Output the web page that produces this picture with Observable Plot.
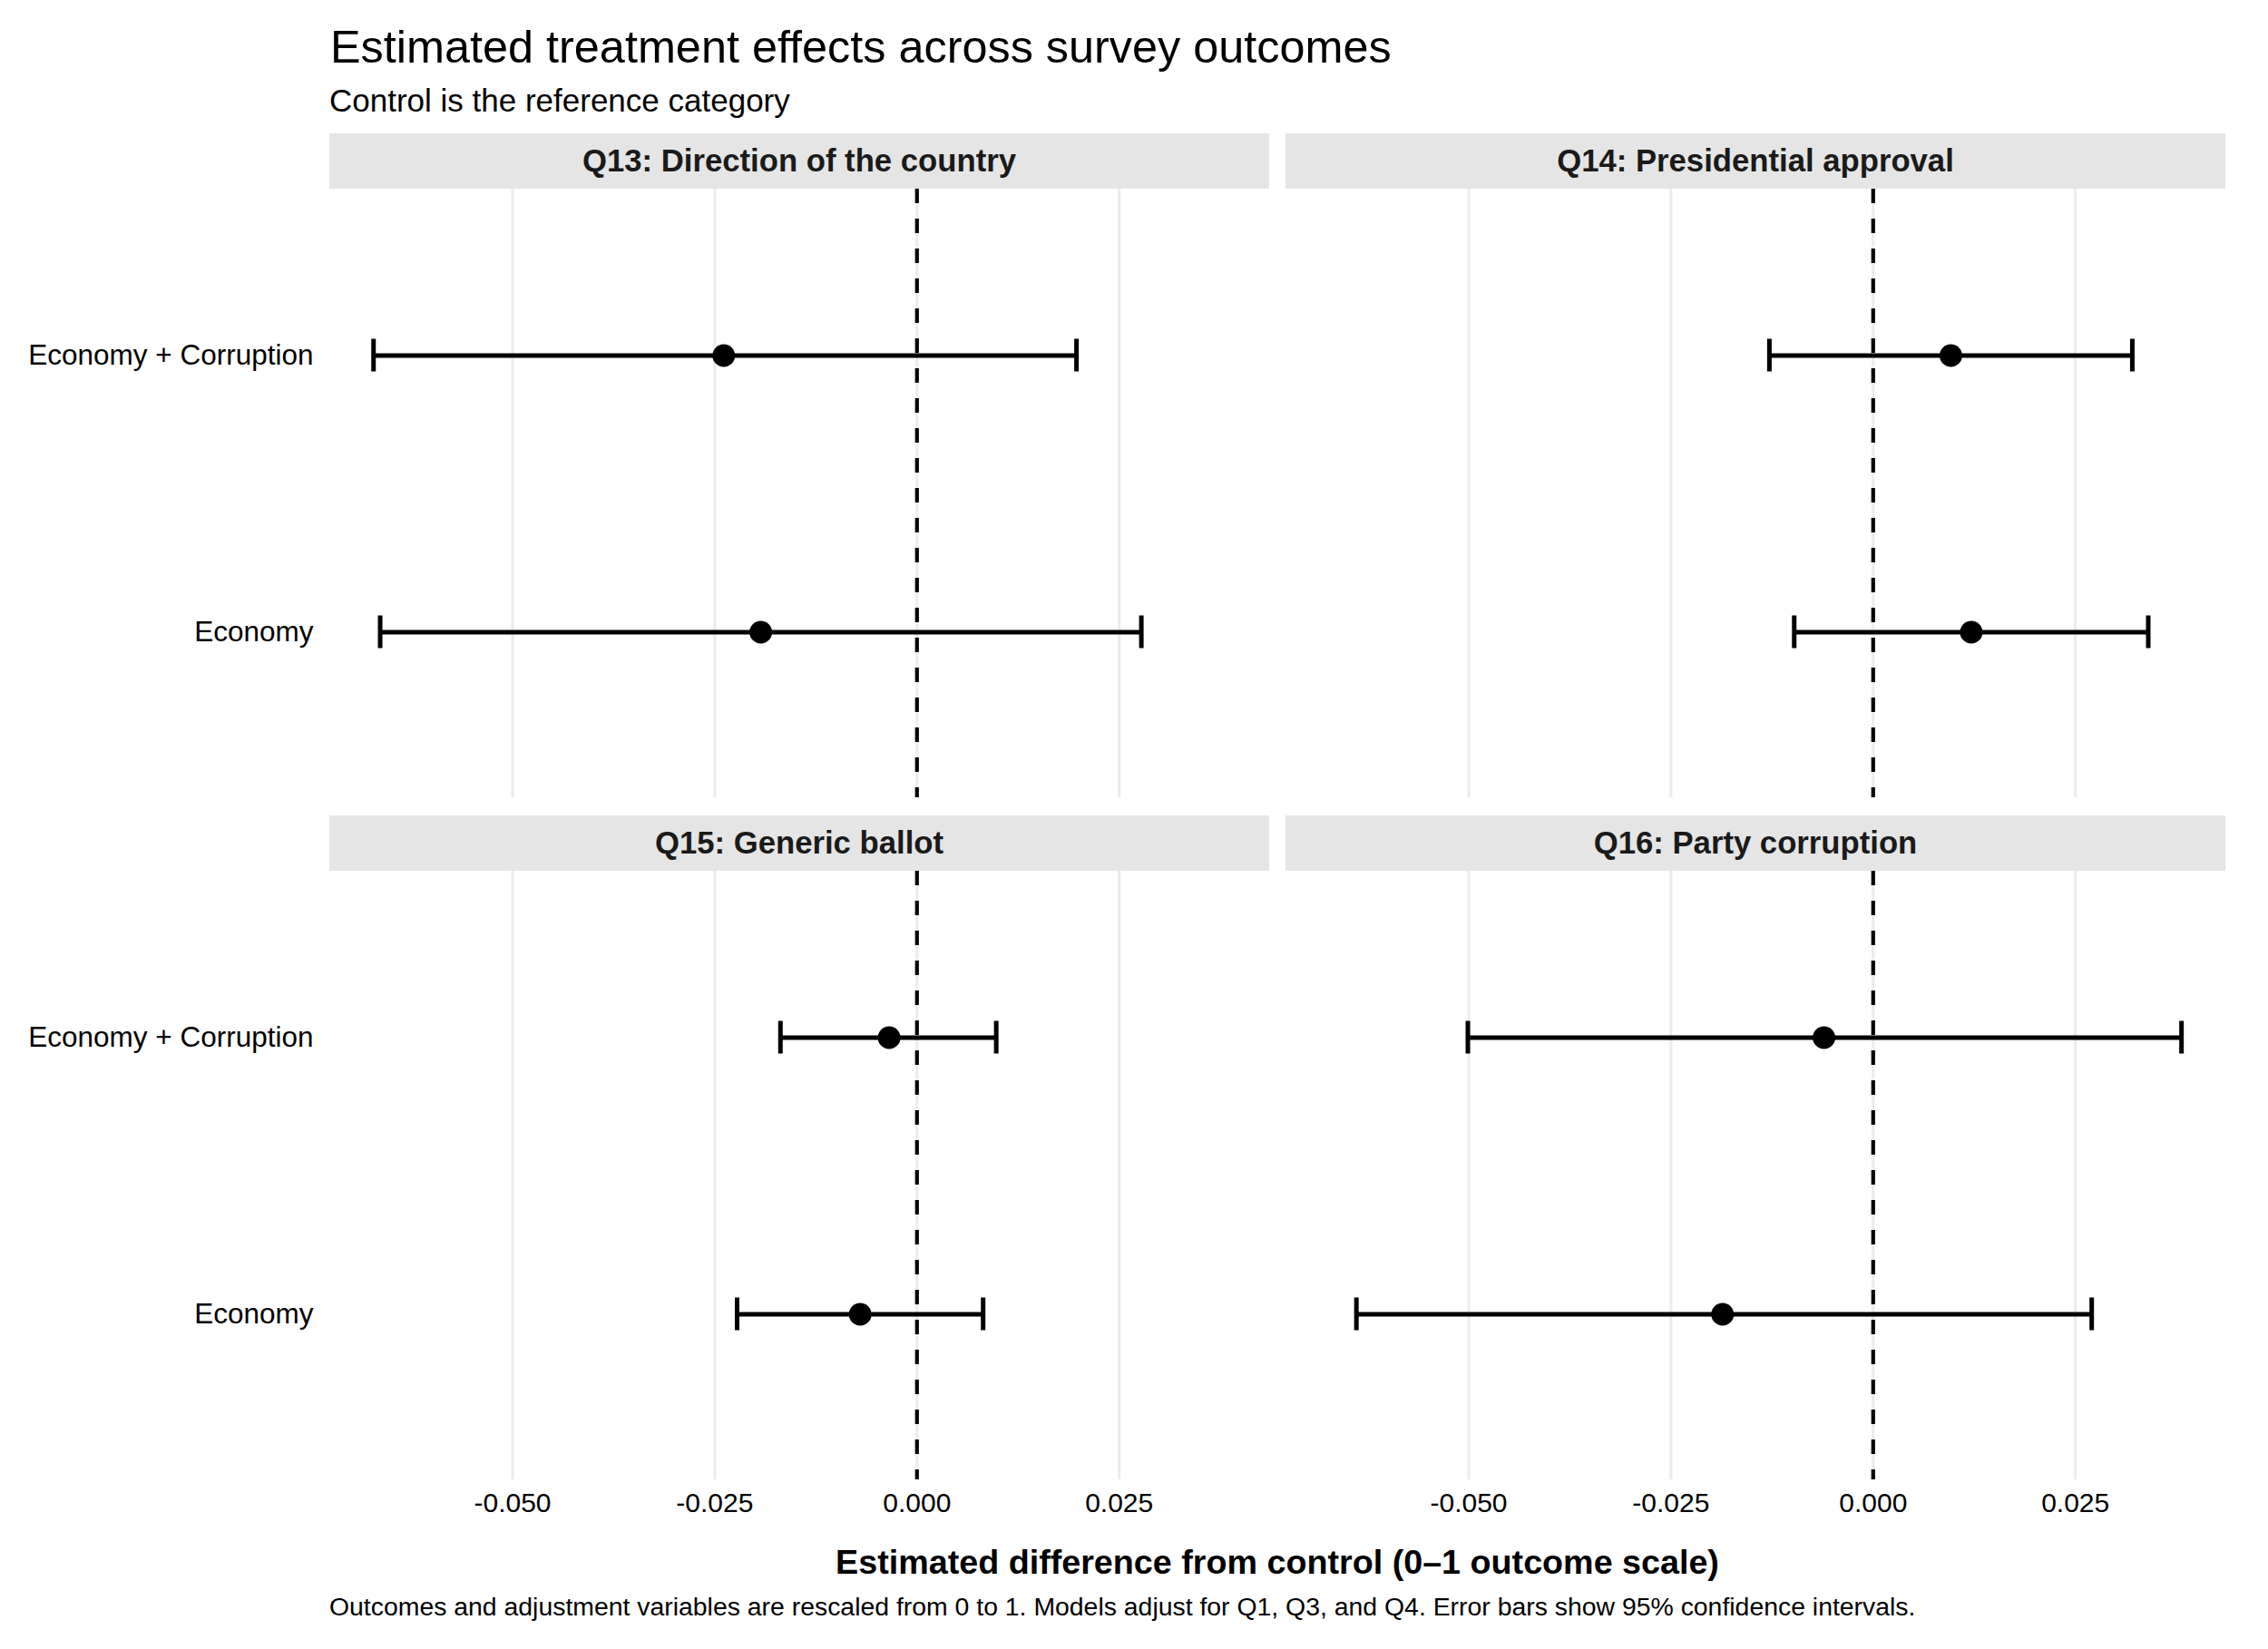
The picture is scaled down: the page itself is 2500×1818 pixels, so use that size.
<!DOCTYPE html>
<html>
<head>
<meta charset="utf-8">
<script src="https://cdn.jsdelivr.net/npm/d3@7"></script>
<script src="https://cdn.jsdelivr.net/npm/@observablehq/plot@0.6"></script>
<style>
  body { margin: 0; background: #fff; }
  #root { position: relative; width: 2500px; height: 1818px; background: #fff;
          font-family: "Liberation Sans", Arial, Helvetica, sans-serif; overflow: hidden; }
  .abs { position: absolute; white-space: nowrap; line-height: 1; color: #000; }
  .strip { position: absolute; background: #e5e5e5; color: #1a1a1a; font-weight: bold;
           font-size: 34.7px; display: flex; align-items: center; justify-content: center; line-height: 1; }
  .panel { position: absolute; }
</style>
</head>
<body>
<div id="root"></div>
<script>
// ---- data ----
const questions = [
  "Q13: Direction of the country",
  "Q14: Presidential approval",
  "Q15: Generic ballot",
  "Q16: Party corruption"
];
const treatments = ["Economy + Corruption", "Economy"];

// estimates and 95% CI per question (same order as questions)
const estEconCorr  = [-0.02389,  0.00961, -0.00344, -0.00608];
const lowEconCorr  = [-0.06719, -0.01283, -0.01688, -0.05011];
const highEconCorr = [ 0.01972,  0.03204,  0.00980,  0.03812];

const estEcon  = [-0.01931,  0.01213, -0.00702, -0.01862];
const lowEcon  = [-0.06637, -0.00976, -0.02224, -0.06389];
const highEcon = [ 0.02774,  0.03401,  0.00818,  0.02702];

const xTicks = [-0.05, -0.025, 0, 0.025];
const xTickLabels = ["-0.050", "-0.025", "0.000", "0.025"];
const xDomain = [-0.0726, 0.0436];

const titleText = "Estimated treatment effects across survey outcomes";
const subtitleText = "Control is the reference category";
const xTitleText = "Estimated difference from control (0\u20131 outcome scale)";
const captionText = "Outcomes and adjustment variables are rescaled from 0 to 1. Models adjust for Q1, Q3, and Q4. Error bars show 95% confidence intervals.";

// ---- layout ----
const root = document.getElementById("root");
const FONT = '"Liberation Sans", Arial, Helvetica, sans-serif';
const PW = 1036, PH = 671;
const colLeft = [363, 1417];
const rowTop = [208, 960];
const STRIP_H = 61;

function addText(txt, left, top, size, opts = {}) {
  const d = document.createElement("div");
  d.className = "abs";
  d.textContent = txt;
  d.style.left = left + "px";
  d.style.top = top + "px";
  d.style.fontSize = size + "px";
  if (opts.bold) d.style.fontWeight = "bold";
  if (opts.width) { d.style.width = opts.width + "px"; d.style.textAlign = "center"; }
  root.appendChild(d);
}

addText(titleText, 364, 27, 50.4);
addText(subtitleText, 363, 92.5, 35);
addText(xTitleText, colLeft[0], 1703.5, 37.7, {bold: true, width: colLeft[1] + PW - colLeft[0]});
addText(captionText, 363, 1756.5, 28.4);

function makePanel(qi, col, row) {
  const rows = [
    {treatment: treatments[0], est: estEconCorr[qi], low: lowEconCorr[qi], high: highEconCorr[qi]},
    {treatment: treatments[1], est: estEcon[qi], low: lowEcon[qi], high: highEcon[qi]}
  ];
  const isLeft = col === 0, isBottom = row === 1;
  const ml = isLeft ? colLeft[0] : 0;
  const mb = isBottom ? 70 : 0;
  const bandwidth = PH / 2.2;
  const capInset = (bandwidth - 36) / 2;
  const marks = [
    Plot.gridX(xTicks, {stroke: "#ebebeb", strokeOpacity: 1, strokeWidth: 3}),
    Plot.ruleX([0], {stroke: "#000", strokeWidth: 4.2, strokeDasharray: "16,17"}),
    Plot.ruleY(rows, {y: "treatment", x1: "low", x2: "high", stroke: "#000", strokeWidth: 5}),
    Plot.tickX(rows, {x: "low", y: "treatment", stroke: "#000", strokeWidth: 5, insetTop: capInset, insetBottom: capInset}),
    Plot.tickX(rows, {x: "high", y: "treatment", stroke: "#000", strokeWidth: 5, insetTop: capInset, insetBottom: capInset}),
    Plot.dot(rows, {x: "est", y: "treatment", r: 12.5, fill: "#000", stroke: "none"})
  ];
  if (isLeft) marks.push(Plot.axisY({tickSize: 0, tickPadding: 18, fontSize: 31.5, label: null}));
  if (isBottom) marks.push(Plot.axisX(xTicks, {
    tickSize: 0, tickPadding: 14, fontSize: 30, label: null,
    tickFormat: d => xTickLabels[xTicks.indexOf(d)]
  }));
  const svg = Plot.plot({
    width: PW + ml,
    height: PH + mb,
    marginLeft: ml, marginRight: 0, marginTop: 0, marginBottom: mb,
    style: {fontFamily: FONT, fontSize: "30px", color: "#000", background: "transparent", overflow: "visible"},
    x: {domain: xDomain, label: null, axis: isBottom ? undefined : null},
    y: {type: "band", domain: treatments, paddingInner: 0, paddingOuter: 0.1, label: null, axis: isLeft ? undefined : null},
    marks
  });
  svg.classList.add("panel");
  svg.style.left = (colLeft[col] - ml) + "px";
  svg.style.top = rowTop[row] + "px";
  root.appendChild(svg);

  const strip = document.createElement("div");
  strip.className = "strip";
  strip.textContent = questions[qi];
  strip.style.left = colLeft[col] + "px";
  strip.style.top = (rowTop[row] - STRIP_H) + "px";
  strip.style.width = PW + "px";
  strip.style.height = STRIP_H + "px";
  root.appendChild(strip);
}

questions.forEach((q, i) => makePanel(i, i % 2, Math.floor(i / 2)));
</script>
</body>
</html>
